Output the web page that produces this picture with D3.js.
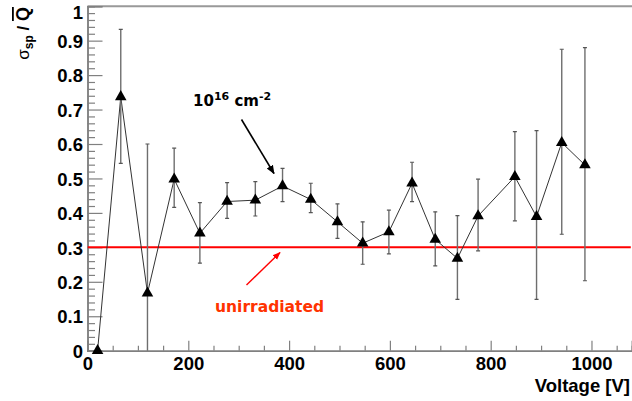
<!DOCTYPE html>
<html><head><meta charset="utf-8">
<script src="https://cdn.jsdelivr.net/npm/d3@7"></script>
<style>
html,body{margin:0;padding:0;background:#fff;}
svg{display:block;}
</style></head>
<body>
<script>
// ---- data ----
const voltage = [20, 66, 119, 172, 223, 277, 333, 387, 443, 496, 546, 598, 644, 690, 734, 775, 848, 891, 941, 987];
const ratio   = [0.0, 0.737, 0.167, 0.498, 0.341, 0.433, 0.437, 0.478, 0.439, 0.374, 0.312, 0.345, 0.486, 0.323, 0.268, 0.391, 0.505, 0.389, 0.604, 0.539];
const errHigh = [0.0, 0.933, 0.600, 0.588, 0.430, 0.488, 0.491, 0.529, 0.486, 0.426, 0.374, 0.408, 0.547, 0.403, 0.392, 0.498, 0.636, 0.639, 0.875, 0.880];
const errLow  = [0.0, 0.544, -0.266, 0.416, 0.254, 0.384, 0.391, 0.433, 0.401, 0.326, 0.251, 0.281, 0.433, 0.246, 0.149, 0.290, 0.377, 0.149, 0.338, 0.203];
const unirradiatedLevel = 0.3;
const xTicks = [0, 200, 400, 600, 800, 1000];
const yTicks = [0, 0.1, 0.2, 0.3, 0.4, 0.5, 0.6, 0.7, 0.8, 0.9, 1];
const xDomain = [0, 1080];
const yDomain = [0, 1];

const W = 632, H = 401;
const L = 87.5, R = 631.8, T = 6.2, B = 350.7;

const svg = d3.select("body").append("svg").attr("width", W).attr("height", H);

const x = d3.scaleLinear().domain(xDomain).range([L, R]);
const y = d3.scaleLinear().domain(yDomain).range([B, T]);

svg.append("defs").append("clipPath").attr("id","plot")
  .append("rect").attr("x", L).attr("y", T).attr("width", R - L).attr("height", B - T);
svg.select("defs").append("marker").attr("id","ahB").attr("viewBox","0 0 10 10").attr("refX",9).attr("refY",5)
  .attr("markerWidth",9).attr("markerHeight",9).attr("markerUnits","userSpaceOnUse").attr("orient","auto")
  .append("path").attr("d","M0,1 L10,5 L0,9 z").attr("fill","#000");
svg.select("defs").append("marker").attr("id","ahR").attr("viewBox","0 0 10 10").attr("refX",9).attr("refY",5)
  .attr("markerWidth",8).attr("markerHeight",8).attr("markerUnits","userSpaceOnUse").attr("orient","auto")
  .append("path").attr("d","M0,1 L10,5 L0,9 z").attr("fill","#ff0000");

const tickFont = "'Liberation Sans', Arial, sans-serif";
const axisColor = "#808080";

// frame top
svg.append("line").attr("x1", L).attr("x2", W).attr("y1", T).attr("y2", T)
  .attr("stroke", "#999").attr("stroke-width", 2);

// x axis: minor ticks
const xMinor = d3.range(50, xDomain[1] + 1, 50).filter(v => v % 200 !== 0);
const xAxisMinor = d3.axisBottom(x).tickValues(xMinor).tickSize(-5).tickFormat("");
const gxm = svg.append("g").attr("transform", `translate(0,${B})`).call(xAxisMinor);
const xAxis = d3.axisBottom(x).tickValues(xTicks).tickSize(-10).tickPadding(6).tickFormat(d3.format("d"));
const gx = svg.append("g").attr("transform", `translate(0,${B})`).call(xAxis);

// y axis
const yMinor = d3.range(0.02, 1.0, 0.02).filter(v => Math.abs(v*10 - Math.round(v*10)) > 1e-6);
const yAxisMinor = d3.axisLeft(y).tickValues(yMinor).tickSize(-7.5).tickFormat("");
const gym = svg.append("g").attr("transform", `translate(${L},0)`).call(yAxisMinor);
const yAxis = d3.axisLeft(y).tickValues(yTicks).tickSize(-15).tickPadding(4.5).tickFormat(d3.format("~g"));
const gy = svg.append("g").attr("transform", `translate(${L},0)`).call(yAxis);

[gx, gxm, gy, gym].forEach(g => {
  g.select(".domain").attr("stroke", axisColor).attr("stroke-width", 1.5);
  g.selectAll(".tick line").attr("stroke", axisColor).attr("stroke-width", 1.2);
  g.selectAll("text").attr("font-family", tickFont).attr("font-weight", "bold")
    .attr("font-size", 18.5).attr("fill", "#000");
});
gy.selectAll(".tick text").attr("dy", "0.36em");
// top label sits just inside the frame, as in the reference
gy.selectAll(".tick").filter(d => d === yDomain[1]).select("text").attr("dy", "0.66em");

// axis titles
svg.append("text").attr("x", 630).attr("y", 391.5).attr("text-anchor", "end")
  .attr("font-family", tickFont).attr("font-weight", "bold").attr("font-size", 18.5)
  .text("Voltage [V]");

const yl = svg.append("text").attr("transform", "translate(29,7) rotate(-90)")
  .attr("text-anchor", "end").attr("font-family", tickFont).attr("font-size", 17).attr("fill","#000")
  .attr("xml:space", "preserve").style("white-space", "pre");
yl.append("tspan").text("σ");
yl.append("tspan").attr("font-size", 12).attr("font-weight","bold").attr("dy", 4).text("sp");
yl.append("tspan").attr("font-weight","bold").attr("dy", -4).text("\u00A0/\u00A0");
yl.append("tspan").attr("font-weight","bold").attr("font-size", 18).style("text-decoration","overline").text("Q");

// plot area
const plot = svg.append("g").attr("clip-path", "url(#plot)");

// red unirradiated line
plot.append("line").attr("x1", L).attr("x2", R - 1).attr("y1", y(unirradiatedLevel)).attr("y2", y(unirradiatedLevel))
  .attr("stroke", "#ff0000").attr("stroke-width", 2);

// connecting line
const pts = voltage.map((v, i) => ({v, r: ratio[i], hi: errHigh[i], lo: errLow[i]}));
plot.append("path").datum(pts)
  .attr("d", d3.line().x(d => x(d.v)).y(d => y(d.r)))
  .attr("fill", "none").attr("stroke", "#333").attr("stroke-width", 1);

// error bars
const eb = plot.append("g").selectAll("g").data(pts.filter(d => d.hi !== d.lo)).join("g");
eb.append("line").attr("x1", d => x(d.v)).attr("x2", d => x(d.v))
  .attr("y1", d => y(d.hi)).attr("y2", d => y(d.lo))
  .attr("stroke", "#6e6e6e").attr("stroke-width", 1.4);
eb.append("line").attr("x1", d => x(d.v) - 2).attr("x2", d => x(d.v) + 2)
  .attr("y1", d => y(d.hi)).attr("y2", d => y(d.hi)).attr("stroke", "#555").attr("stroke-width", 1.2);
eb.append("line").attr("x1", d => x(d.v) - 2).attr("x2", d => x(d.v) + 2)
  .attr("y1", d => y(d.lo)).attr("y2", d => y(d.lo)).attr("stroke", "#555").attr("stroke-width", 1.2);

// markers
svg.append("g").selectAll("path").data(pts).join("path")
  .attr("transform", d => `translate(${x(d.v)},${y(d.r)})`)
  .attr("d", d3.symbol(d3.symbolTriangle, 58))
  .attr("fill", "#000");

// annotation 10^16 cm^-2
const annFont = "'DejaVu Sans', Verdana, sans-serif";
const a1 = svg.append("text").attr("x", 193).attr("y", 106).attr("font-family", annFont)
  .attr("font-weight", "bold").attr("font-size", 15).attr("fill", "#000");
a1.append("tspan").text("10");
a1.append("tspan").attr("font-size", 11).attr("dy", -6).text("16");
a1.append("tspan").attr("dy", 6).text("\u00A0cm");
a1.append("tspan").attr("font-size", 11).attr("dy", -6).text("-2");

svg.append("line").attr("x1", 241.5).attr("y1", 119.5).attr("x2", 274).attr("y2", 173.5)
  .attr("stroke", "#000").attr("stroke-width", 1.6).attr("marker-end", "url(#ahB)");

// annotation unirradiated
svg.append("text").attr("x", 215).attr("y", 311.5).attr("font-family", annFont)
  .attr("font-weight", "bold").attr("font-size", 15.5).attr("fill", "#ff3300").text("unirradiated");
svg.append("line").attr("x1", 246.5).attr("y1", 285).attr("x2", 280).attr("y2", 252.5)
  .attr("stroke", "#ff0000").attr("stroke-width", 1.4).attr("marker-end", "url(#ahR)");
</script>
</body></html>
